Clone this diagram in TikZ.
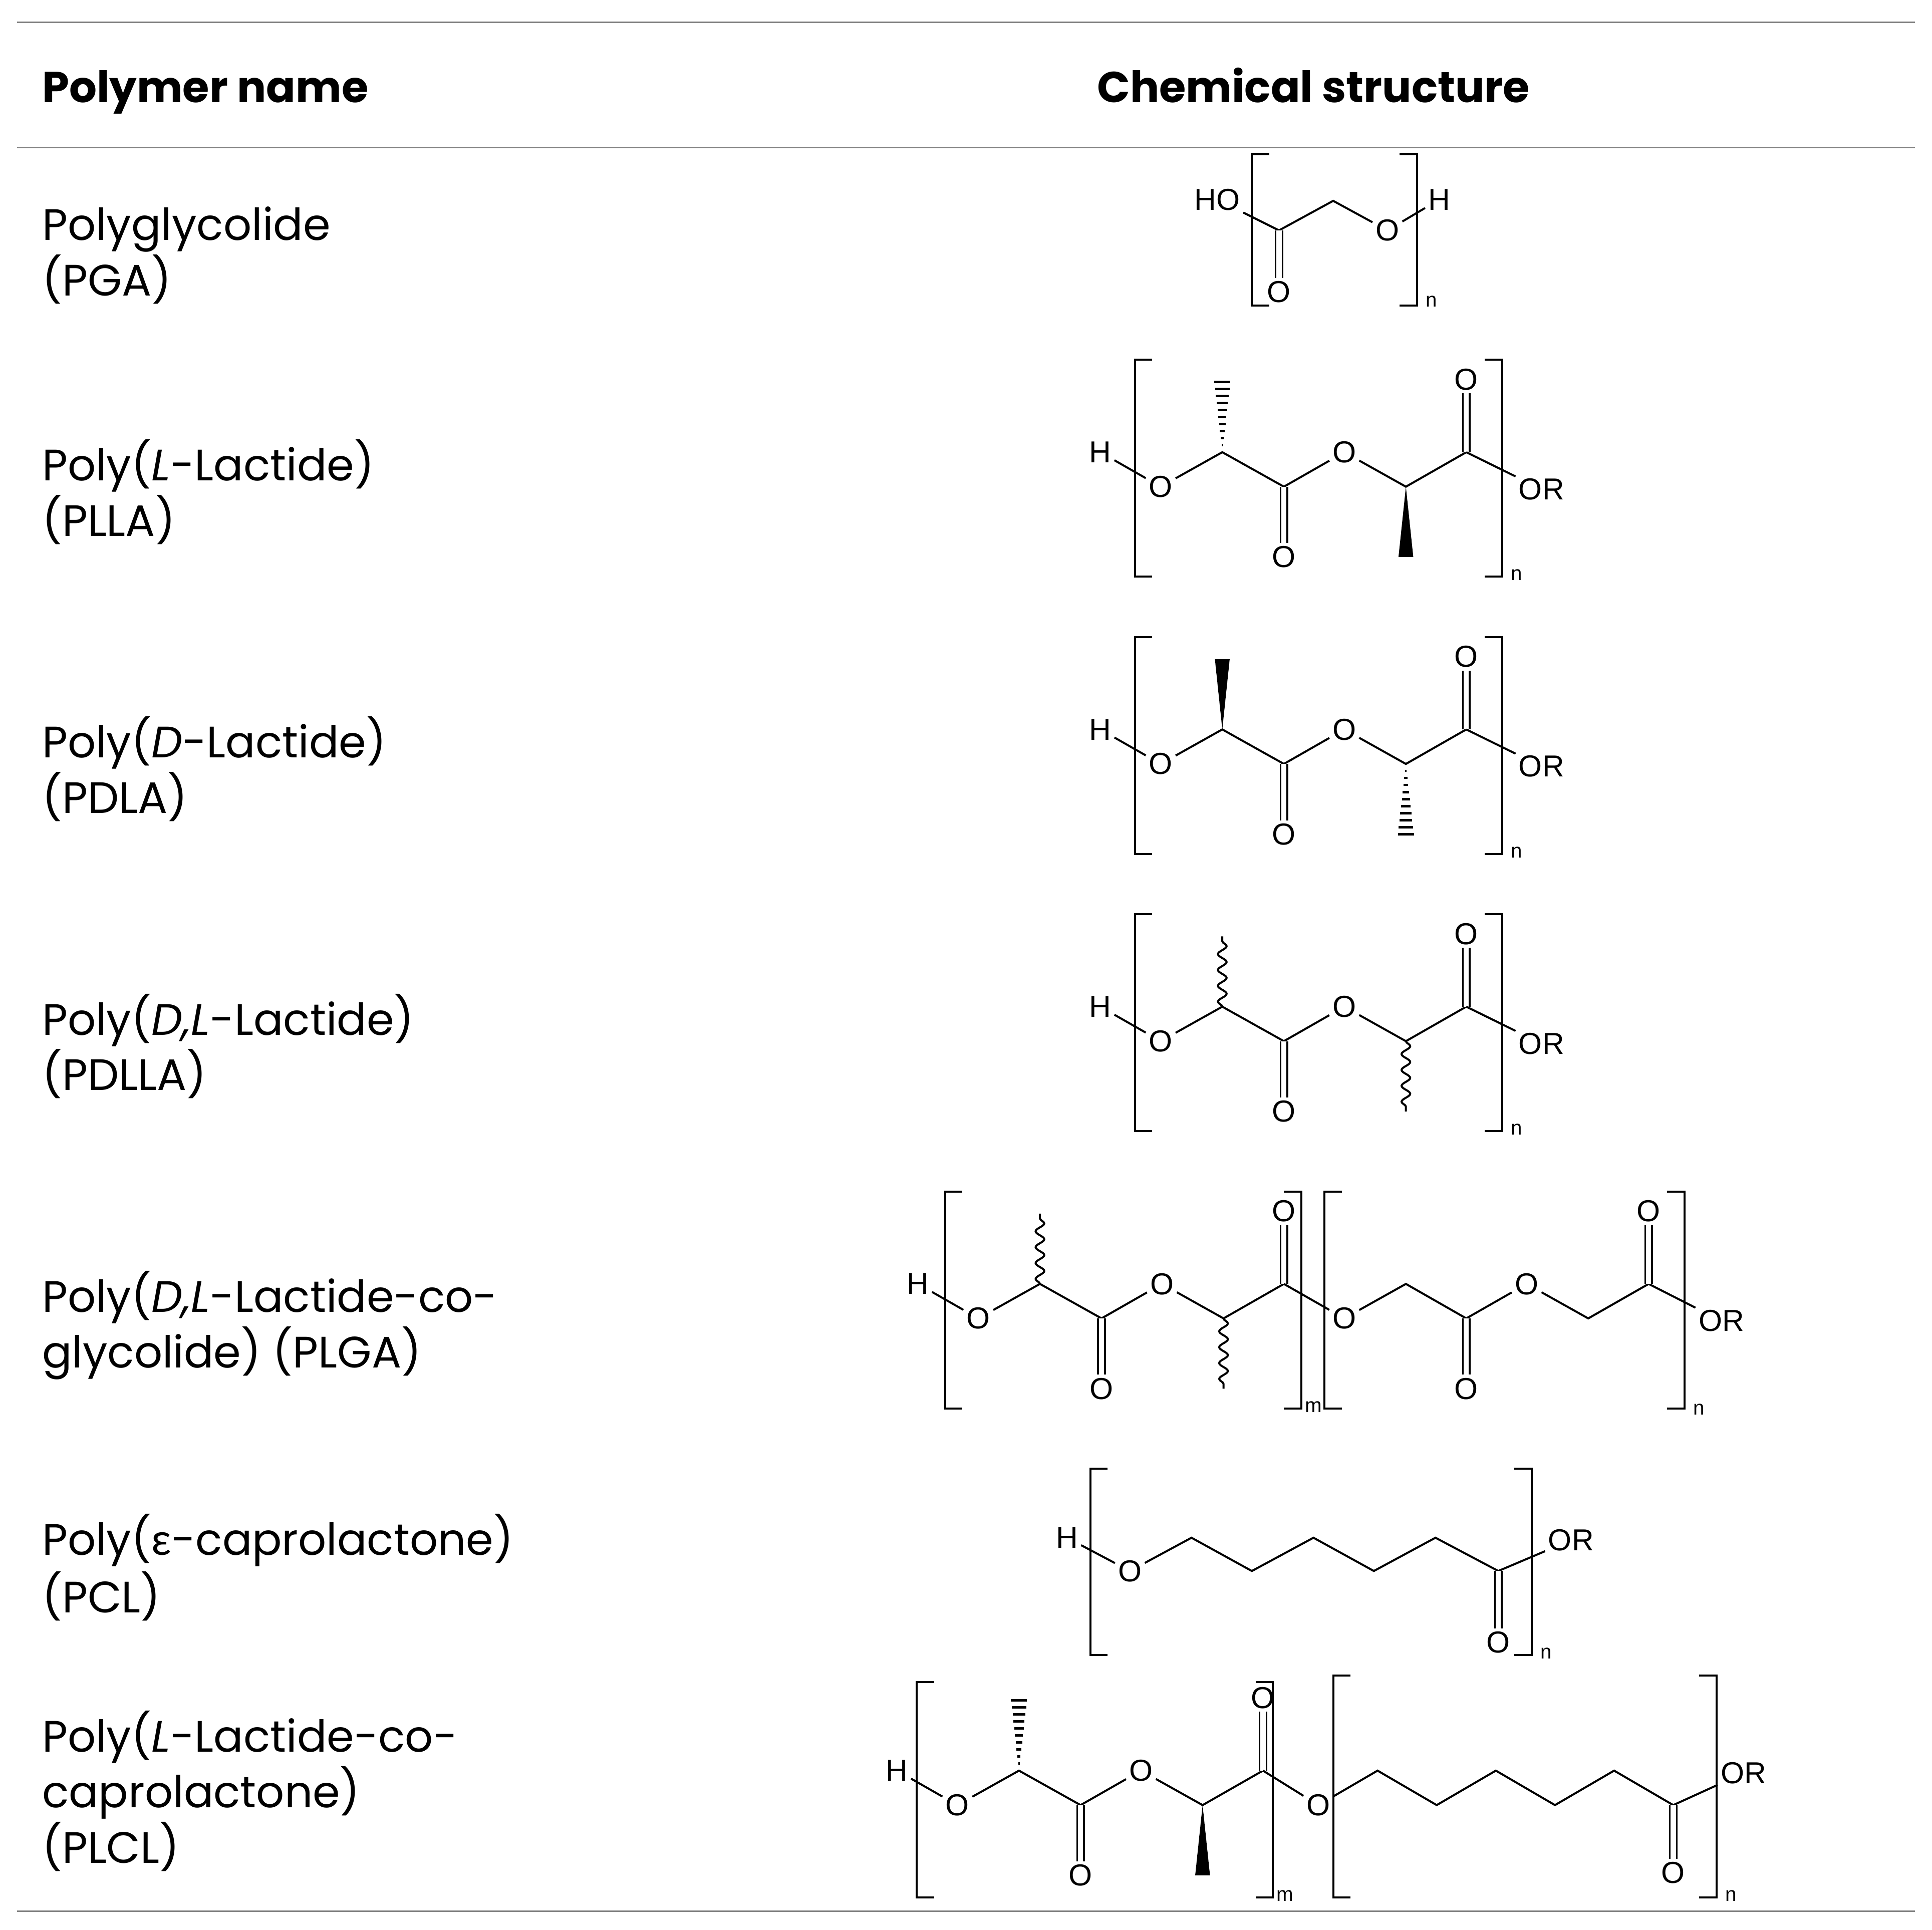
\documentclass[tikz,border=0pt]{standalone}
\usepackage{fontspec}
\setmainfont{Poppins}
\newfontfamily\chemf{Liberation Sans}
\newfontfamily\gk{Lato}
\usetikzlibrary{calc,decorations.pathmorphing}
\newcommand\hashb[2]{\foreach \t in {0.1,0.2,...,1.0}{\draw[line width=1.6pt] ($(#1)!\t!(#2)+(-6.5*\t,0)$) -- ($(#1)!\t!(#2)+(6.5*\t,0)$);}}
\newcommand\wedgeb[2]{\fill (#1) -- ($(#2)+(-6,0)$) -- ($(#2)+(6,0)$) -- cycle;}
\newcommand\wavyb[2]{\draw[bond,decorate,decoration={snake,amplitude=3pt,segment length=11pt,post length=1pt}] (#1) -- (#2);}
\newcommand\brL[3]{\draw[brk] (#1+14,#2) -- (#1,#2) -- (#1,#3) -- (#1+14,#3);}
\newcommand\brR[3]{\draw[brk] (#1-14,#2) -- (#1,#2) -- (#1,#3) -- (#1-14,#3);}
\newcommand\lacunit[3]{%
\begin{scope}[shift={(#2,#3)}]
\node[atom] (#1o1) at (0,0) {O};
\coordinate (#1c1) at (50,-28);
\coordinate (#1c2) at (100,0);
\node[atom] (#1o2) at (100,57) {O};
\node[atom] (#1o3) at (149,-28) {O};
\coordinate (#1c3) at (199,0);
\coordinate (#1c4) at (248,-28);
\node[atom] (#1o4) at (248,-87) {O};
\coordinate (#1m1) at (50,-85);
\coordinate (#1m2) at (199,57);
\draw[bond] (#1o1) -- (#1c1) -- (#1c2) -- (#1o3) -- (#1c3) -- (#1c4);
\draw[dbl] (#1c2) -- (#1o2);
\draw[dbl] (#1c4) -- (#1o4);
\end{scope}}
\begin{document}
\begin{tikzpicture}[x=0.3mm,y=-0.3mm,
  bond/.style={line width=1.4pt,line join=miter},
  dbl/.style={double,double distance=3.6pt,line width=1.2pt},
  brk/.style={line width=1.4pt},
  atom/.style={font=\chemf\fontsize{21}{21}\selectfont,inner sep=2pt},
  idx/.style={font=\chemf\fontsize{14}{14}\selectfont,anchor=north west,inner sep=0pt},
  rule/.style={line width=0.9pt,gray},
  pname/.style={font=\fontsize{30.5}{30.5}\selectfont,anchor=base west,inner sep=0pt},
  head/.style={font=\bfseries\fontsize{30}{30}\selectfont,anchor=base,inner sep=0pt}]
\useasboundingbox (0,0) rectangle (1568,1566);
\fill[white] (0,0) rectangle (1568,1566);
% table rules
\coordinate (t1) at (14,18); \coordinate (t2) at (1554,18);
\coordinate (h1) at (14,120); \coordinate (h2) at (1554,120);
\coordinate (b1) at (14,1551); \coordinate (b2) at (1554,1551);
\draw[rule] (t1) -- (t2); \draw[rule] (h1) -- (h2); \draw[rule] (b1) -- (b2);
\node[head,anchor=base west] (hn) at (34,83) {Polymer name};
\node[head] (hc) at (1066,83) {Chemical structure};
% names
\node[pname] (n1) at (34,195) {Polyglycolide};
\node[pname] (n1b) at (34,240) {(PGA)};
\node[pname] (n2) at (34,390) {Poly(\textit{L}-Lactide)};
\node[pname] (n2b) at (34,435) {(PLLA)};
\node[pname] (n3) at (34,615) {Poly(\textit{D}-Lactide)};
\node[pname] (n3b) at (34,660) {(PDLA)};
\node[pname] (n4) at (34,840) {Poly(\textit{D,L}-Lactide)};
\node[pname] (n4b) at (34,885) {(PDLLA)};
\node[pname] (n5) at (34,1065) {Poly(\textit{D,L}-Lactide-co-};
\node[pname] (n5b) at (34,1110) {glycolide) (PLGA)};
\node[pname] (n6) at (34,1262) {Poly({\gk ε}-caprolactone)};
\node[pname] (n6b) at (34,1309) {(PCL)};
\node[pname] (n7) at (34,1422) {Poly(\textit{L}-Lactide-co-};
\node[pname] (n7b) at (34,1467) {caprolactone)};
\node[pname] (n7c) at (34,1512) {(PLCL)};
% ---- PGA
\node[atom] (gHO) at (988,162) {HO};
\coordinate (gc1) at (1038,187);
\node[atom] (go1) at (1038,237) {O};
\coordinate (gc2) at (1082,163);
\node[atom] (go2) at (1126,187) {O};
\node[atom] (gH) at (1168,162) {H};
\draw[bond] (gHO) -- (gc1) -- (gc2) -- (go2) -- (gH);
\draw[dbl] (gc1) -- (go1);
\brL{1016}{125}{248} \brR{1150}{125}{248}
\node[idx] (gn) at (1157,240) {n};
% ---- PLLA
\lacunit{a}{942}{395}
\node[atom] (aH) at (893,367) {H};
\node[atom,anchor=west] (aOR) at (1230,397) {OR};
\draw[bond] (aH) -- (ao1); \draw[bond] (ac4) -- (aOR);
\hashb{ac1}{am1} \wedgeb{ac3}{am2}
\brL{921}{292}{468} \brR{1219}{292}{468}
\node[idx] (an) at (1226,462) {n};
% ---- PDLA
\lacunit{b}{942}{620}
\node[atom] (bH) at (893,592) {H};
\node[atom,anchor=west] (bOR) at (1230,622) {OR};
\draw[bond] (bH) -- (bo1); \draw[bond] (bc4) -- (bOR);
\wedgeb{bc1}{bm1} \hashb{bc3}{bm2}
\brL{921}{517}{693} \brR{1219}{517}{693}
\node[idx] (bn) at (1226,687) {n};
% ---- PDLLA
\lacunit{c}{942}{845}
\node[atom] (cH) at (893,817) {H};
\node[atom,anchor=west] (cOR) at (1230,847) {OR};
\draw[bond] (cH) -- (co1); \draw[bond] (cc4) -- (cOR);
\wavyb{cc1}{cm1} \wavyb{cc3}{cm2}
\brL{921}{742}{918} \brR{1219}{742}{918}
\node[idx] (cn) at (1226,912) {n};
% ---- PLGA
\lacunit{d}{794}{1070}
\node[atom] (dH) at (745,1042) {H};
\draw[bond] (dH) -- (do1);
\wavyb{dc1}{dm1} \wavyb{dc3}{dm2}
\node[atom] (e0) at (1091,1070) {O};
\coordinate (e1) at (1141,1042);
\coordinate (e2) at (1190,1070);
\node[atom] (e2o) at (1190,1127) {O};
\node[atom] (e3) at (1239,1042) {O};
\coordinate (e4) at (1289,1070);
\coordinate (e5) at (1338,1042);
\node[atom] (e5o) at (1338,983) {O};
\node[atom,anchor=west] (eOR) at (1376,1072) {OR};
\draw[bond] (dc4) -- (e0) -- (e1) -- (e2) -- (e3) -- (e4) -- (e5) -- (eOR);
\draw[dbl] (e2) -- (e2o); \draw[dbl] (e5) -- (e5o);
\brL{767}{967}{1143} \brR{1056}{967}{1143}
\node[idx] (dm) at (1059,1137) {m};
\brL{1075}{967}{1143} \brR{1367}{967}{1143}
\node[idx] (en) at (1374,1139) {n};
% ---- PCL
\node[atom] (pH) at (866,1248) {H};
\node[atom] (po) at (917,1275) {O};
\coordinate (p1) at (967,1248);
\coordinate (p2) at (1016,1275);
\coordinate (p3) at (1066,1248);
\coordinate (p4) at (1115,1275);
\coordinate (p5) at (1165,1248);
\coordinate (p6) at (1216,1275);
\node[atom] (p6o) at (1216,1333) {O};
\node[atom,anchor=west] (pOR) at (1254,1250) {OR};
\draw[bond] (pH) -- (po) -- (p1) -- (p2) -- (p3) -- (p4) -- (p5) -- (p6) -- (pOR);
\draw[dbl] (p6) -- (p6o);
\brL{885}{1192}{1343} \brR{1243}{1192}{1343}
\node[idx] (pn) at (1250,1337) {n};
% ---- PLCL
\lacunit{f}{777}{1465}
\node[atom] (fH) at (728,1437) {H};
\draw[bond] (fH) -- (fo1);
\hashb{fc1}{fm1} \wedgeb{fc3}{fm2}
\node[atom] (q0) at (1070,1465) {O};
\coordinate (q1) at (1118,1437);
\coordinate (q2) at (1166,1465);
\coordinate (q3) at (1214,1437);
\coordinate (q4) at (1262,1465);
\coordinate (q5) at (1310,1437);
\coordinate (q6) at (1358,1465);
\node[atom] (q6o) at (1358,1520) {O};
\node[atom,anchor=west] (qOR) at (1394,1439) {OR};
\draw[bond] (fc4) -- (q0) -- (q1) -- (q2) -- (q3) -- (q4) -- (q5) -- (q6) -- (qOR);
\draw[dbl] (q6) -- (q6o);
\brL{744}{1365}{1540} \brR{1033}{1365}{1540}
\node[idx] (fm) at (1036,1534) {m};
\brL{1082}{1360}{1540} \brR{1393}{1360}{1540}
\node[idx] (qn) at (1400,1534) {n};
\end{tikzpicture}
\end{document}
